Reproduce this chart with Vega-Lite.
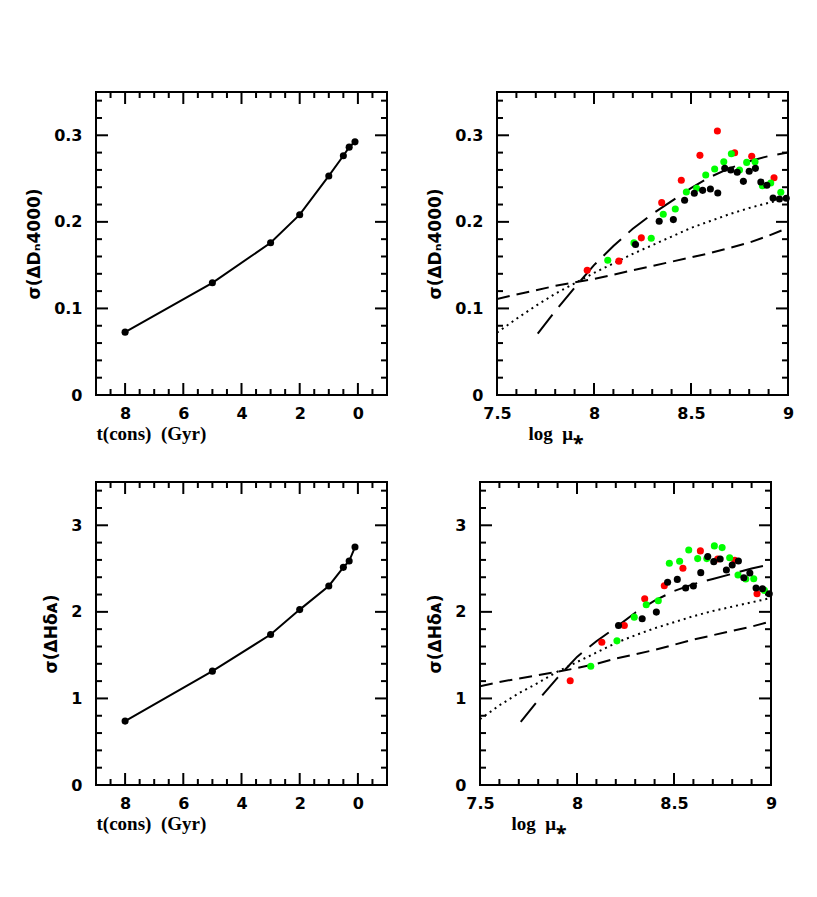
{
  "$schema": "https://vega.github.io/schema/vega-lite/v6.json",
  "padding": {"left": 24, "top": 90, "right": 5, "bottom": 5},
  "background": "white",
  "spacing": 36,
  "config": {
    "view": {"stroke": "black", "strokeWidth": 2},
    "axis": {
      "domain": false, "grid": false, "tickSize": 0,
      "labelFont": "DejaVu Sans", "labelFontSize": 16, "labelFontWeight": "bold", "labelColor": "black",
      "labelFlush": false, "labelOverlap": false, "titleColor": "black", "titleFontWeight": "bold"
    },
    "concat": {"spacing": 36}
  },
  "datasets": {
    "tl": [
      {"t": 8, "sigma": 0.0726}, {"t": 5, "sigma": 0.1296}, {"t": 3, "sigma": 0.1758}, {"t": 2, "sigma": 0.2083},
      {"t": 1, "sigma": 0.253}, {"t": 0.5, "sigma": 0.2764}, {"t": 0.3, "sigma": 0.2863}, {"t": 0.1, "sigma": 0.2924}
    ],
    "bl": [
      {"t": 8, "sigma": 0.738}, {"t": 5, "sigma": 1.315}, {"t": 3, "sigma": 1.738}, {"t": 2, "sigma": 2.026},
      {"t": 1, "sigma": 2.299}, {"t": 0.5, "sigma": 2.514}, {"t": 0.3, "sigma": 2.587}, {"t": 0.1, "sigma": 2.749}
    ],
    "trc": [
      {"model": "model 1", "logmu": 7.71, "sigma": 0.071}, {"model": "model 1", "logmu": 7.8, "sigma": 0.097},
      {"model": "model 1", "logmu": 7.9, "sigma": 0.124}, {"model": "model 1", "logmu": 8.0, "sigma": 0.15},
      {"model": "model 1", "logmu": 8.1, "sigma": 0.172}, {"model": "model 1", "logmu": 8.2, "sigma": 0.192},
      {"model": "model 1", "logmu": 8.3, "sigma": 0.209}, {"model": "model 1", "logmu": 8.4, "sigma": 0.224},
      {"model": "model 1", "logmu": 8.5, "sigma": 0.239}, {"model": "model 1", "logmu": 8.6, "sigma": 0.252},
      {"model": "model 1", "logmu": 8.7, "sigma": 0.262}, {"model": "model 1", "logmu": 8.8, "sigma": 0.27},
      {"model": "model 1", "logmu": 8.9, "sigma": 0.276}, {"model": "model 1", "logmu": 9.0, "sigma": 0.28},
      {"model": "model 2", "logmu": 7.5, "sigma": 0.072}, {"model": "model 2", "logmu": 7.6, "sigma": 0.088},
      {"model": "model 2", "logmu": 7.7, "sigma": 0.103}, {"model": "model 2", "logmu": 7.8, "sigma": 0.117},
      {"model": "model 2", "logmu": 7.9, "sigma": 0.129}, {"model": "model 2", "logmu": 8.0, "sigma": 0.141},
      {"model": "model 2", "logmu": 8.1, "sigma": 0.152}, {"model": "model 2", "logmu": 8.2, "sigma": 0.163},
      {"model": "model 2", "logmu": 8.3, "sigma": 0.173}, {"model": "model 2", "logmu": 8.4, "sigma": 0.183},
      {"model": "model 2", "logmu": 8.5, "sigma": 0.193}, {"model": "model 2", "logmu": 8.6, "sigma": 0.201},
      {"model": "model 2", "logmu": 8.7, "sigma": 0.209}, {"model": "model 2", "logmu": 8.8, "sigma": 0.216},
      {"model": "model 2", "logmu": 8.9, "sigma": 0.222}, {"model": "model 2", "logmu": 9.0, "sigma": 0.228},
      {"model": "model 3", "logmu": 7.5, "sigma": 0.111}, {"model": "model 3", "logmu": 7.6, "sigma": 0.116},
      {"model": "model 3", "logmu": 7.7, "sigma": 0.121}, {"model": "model 3", "logmu": 7.8, "sigma": 0.126},
      {"model": "model 3", "logmu": 7.9, "sigma": 0.13}, {"model": "model 3", "logmu": 8.0, "sigma": 0.134},
      {"model": "model 3", "logmu": 8.1, "sigma": 0.139}, {"model": "model 3", "logmu": 8.2, "sigma": 0.144},
      {"model": "model 3", "logmu": 8.3, "sigma": 0.149}, {"model": "model 3", "logmu": 8.4, "sigma": 0.154},
      {"model": "model 3", "logmu": 8.5, "sigma": 0.159}, {"model": "model 3", "logmu": 8.6, "sigma": 0.164},
      {"model": "model 3", "logmu": 8.7, "sigma": 0.17}, {"model": "model 3", "logmu": 8.8, "sigma": 0.176},
      {"model": "model 3", "logmu": 8.9, "sigma": 0.184}, {"model": "model 3", "logmu": 9.0, "sigma": 0.193}
    ],
    "brc": [
      {"model": "model 1", "logmu": 7.71, "sigma": 0.73}, {"model": "model 1", "logmu": 7.8, "sigma": 0.98},
      {"model": "model 1", "logmu": 7.9, "sigma": 1.24}, {"model": "model 1", "logmu": 8.0, "sigma": 1.48},
      {"model": "model 1", "logmu": 8.1, "sigma": 1.66}, {"model": "model 1", "logmu": 8.2, "sigma": 1.82},
      {"model": "model 1", "logmu": 8.3, "sigma": 1.99}, {"model": "model 1", "logmu": 8.4, "sigma": 2.13},
      {"model": "model 1", "logmu": 8.5, "sigma": 2.24}, {"model": "model 1", "logmu": 8.6, "sigma": 2.32},
      {"model": "model 1", "logmu": 8.7, "sigma": 2.38}, {"model": "model 1", "logmu": 8.8, "sigma": 2.44},
      {"model": "model 1", "logmu": 8.9, "sigma": 2.5}, {"model": "model 1", "logmu": 9.0, "sigma": 2.55},
      {"model": "model 2", "logmu": 7.5, "sigma": 0.76}, {"model": "model 2", "logmu": 7.6, "sigma": 0.92},
      {"model": "model 2", "logmu": 7.7, "sigma": 1.06}, {"model": "model 2", "logmu": 7.8, "sigma": 1.18},
      {"model": "model 2", "logmu": 7.9, "sigma": 1.31}, {"model": "model 2", "logmu": 8.0, "sigma": 1.42},
      {"model": "model 2", "logmu": 8.1, "sigma": 1.53}, {"model": "model 2", "logmu": 8.2, "sigma": 1.64},
      {"model": "model 2", "logmu": 8.3, "sigma": 1.73}, {"model": "model 2", "logmu": 8.4, "sigma": 1.81},
      {"model": "model 2", "logmu": 8.5, "sigma": 1.88}, {"model": "model 2", "logmu": 8.6, "sigma": 1.95},
      {"model": "model 2", "logmu": 8.7, "sigma": 2.01}, {"model": "model 2", "logmu": 8.8, "sigma": 2.06},
      {"model": "model 2", "logmu": 8.9, "sigma": 2.11}, {"model": "model 2", "logmu": 9.0, "sigma": 2.16},
      {"model": "model 3", "logmu": 7.5, "sigma": 1.14}, {"model": "model 3", "logmu": 7.6, "sigma": 1.19},
      {"model": "model 3", "logmu": 7.7, "sigma": 1.23}, {"model": "model 3", "logmu": 7.8, "sigma": 1.27},
      {"model": "model 3", "logmu": 7.9, "sigma": 1.31}, {"model": "model 3", "logmu": 8.0, "sigma": 1.35},
      {"model": "model 3", "logmu": 8.1, "sigma": 1.4}, {"model": "model 3", "logmu": 8.2, "sigma": 1.46},
      {"model": "model 3", "logmu": 8.3, "sigma": 1.51}, {"model": "model 3", "logmu": 8.4, "sigma": 1.56},
      {"model": "model 3", "logmu": 8.5, "sigma": 1.62}, {"model": "model 3", "logmu": 8.6, "sigma": 1.68},
      {"model": "model 3", "logmu": 8.7, "sigma": 1.73}, {"model": "model 3", "logmu": 8.8, "sigma": 1.78},
      {"model": "model 3", "logmu": 8.9, "sigma": 1.83}, {"model": "model 3", "logmu": 9.0, "sigma": 1.89}
    ],
    "trp": [
      {"sample": "A", "logmu": 7.965, "sigma": 0.1442}, {"sample": "A", "logmu": 8.128, "sigma": 0.1546},
      {"sample": "A", "logmu": 8.244, "sigma": 0.1815}, {"sample": "A", "logmu": 8.349, "sigma": 0.2222},
      {"sample": "A", "logmu": 8.45, "sigma": 0.248}, {"sample": "A", "logmu": 8.546, "sigma": 0.2768},
      {"sample": "A", "logmu": 8.636, "sigma": 0.3049}, {"sample": "A", "logmu": 8.725, "sigma": 0.2799},
      {"sample": "A", "logmu": 8.813, "sigma": 0.2757}, {"sample": "A", "logmu": 8.928, "sigma": 0.251},
      {"sample": "B", "logmu": 8.071, "sigma": 0.1557}, {"sample": "B", "logmu": 8.206, "sigma": 0.1757},
      {"sample": "B", "logmu": 8.295, "sigma": 0.1811}, {"sample": "B", "logmu": 8.357, "sigma": 0.2088},
      {"sample": "B", "logmu": 8.419, "sigma": 0.2149}, {"sample": "B", "logmu": 8.476, "sigma": 0.2345},
      {"sample": "B", "logmu": 8.529, "sigma": 0.2388}, {"sample": "B", "logmu": 8.576, "sigma": 0.2541},
      {"sample": "B", "logmu": 8.622, "sigma": 0.261}, {"sample": "B", "logmu": 8.669, "sigma": 0.2695},
      {"sample": "B", "logmu": 8.708, "sigma": 0.2787}, {"sample": "B", "logmu": 8.75, "sigma": 0.2599},
      {"sample": "B", "logmu": 8.787, "sigma": 0.2687}, {"sample": "B", "logmu": 8.83, "sigma": 0.2695},
      {"sample": "B", "logmu": 8.868, "sigma": 0.2418}, {"sample": "B", "logmu": 8.911, "sigma": 0.2449},
      {"sample": "B", "logmu": 8.963, "sigma": 0.2341},
      {"sample": "C", "logmu": 8.214, "sigma": 0.1738}, {"sample": "C", "logmu": 8.336, "sigma": 0.2007},
      {"sample": "C", "logmu": 8.409, "sigma": 0.2026}, {"sample": "C", "logmu": 8.467, "sigma": 0.2249},
      {"sample": "C", "logmu": 8.517, "sigma": 0.233}, {"sample": "C", "logmu": 8.56, "sigma": 0.2364},
      {"sample": "C", "logmu": 8.6, "sigma": 0.238}, {"sample": "C", "logmu": 8.638, "sigma": 0.2334},
      {"sample": "C", "logmu": 8.674, "sigma": 0.2618}, {"sample": "C", "logmu": 8.705, "sigma": 0.2599},
      {"sample": "C", "logmu": 8.738, "sigma": 0.2572}, {"sample": "C", "logmu": 8.77, "sigma": 0.2468},
      {"sample": "C", "logmu": 8.8, "sigma": 0.2584}, {"sample": "C", "logmu": 8.832, "sigma": 0.2618},
      {"sample": "C", "logmu": 8.86, "sigma": 0.2461}, {"sample": "C", "logmu": 8.891, "sigma": 0.2422},
      {"sample": "C", "logmu": 8.923, "sigma": 0.2276}, {"sample": "C", "logmu": 8.956, "sigma": 0.2265},
      {"sample": "C", "logmu": 8.991, "sigma": 0.2272}
    ],
    "brp": [
      {"sample": "A", "logmu": 7.965, "sigma": 1.205}, {"sample": "A", "logmu": 8.128, "sigma": 1.649},
      {"sample": "A", "logmu": 8.244, "sigma": 1.842}, {"sample": "A", "logmu": 8.349, "sigma": 2.151},
      {"sample": "A", "logmu": 8.45, "sigma": 2.302}, {"sample": "A", "logmu": 8.546, "sigma": 2.503},
      {"sample": "A", "logmu": 8.636, "sigma": 2.704}, {"sample": "A", "logmu": 8.725, "sigma": 2.611},
      {"sample": "A", "logmu": 8.813, "sigma": 2.596}, {"sample": "A", "logmu": 8.928, "sigma": 2.209},
      {"sample": "B", "logmu": 8.071, "sigma": 1.371}, {"sample": "B", "logmu": 8.206, "sigma": 1.665},
      {"sample": "B", "logmu": 8.295, "sigma": 1.939}, {"sample": "B", "logmu": 8.357, "sigma": 2.082},
      {"sample": "B", "logmu": 8.419, "sigma": 2.128}, {"sample": "B", "logmu": 8.476, "sigma": 2.561},
      {"sample": "B", "logmu": 8.529, "sigma": 2.584}, {"sample": "B", "logmu": 8.576, "sigma": 2.715},
      {"sample": "B", "logmu": 8.622, "sigma": 2.615}, {"sample": "B", "logmu": 8.669, "sigma": 2.615},
      {"sample": "B", "logmu": 8.708, "sigma": 2.762}, {"sample": "B", "logmu": 8.748, "sigma": 2.742},
      {"sample": "B", "logmu": 8.787, "sigma": 2.626}, {"sample": "B", "logmu": 8.83, "sigma": 2.426},
      {"sample": "B", "logmu": 8.87, "sigma": 2.379}, {"sample": "B", "logmu": 8.911, "sigma": 2.383},
      {"sample": "B", "logmu": 8.966, "sigma": 2.248},
      {"sample": "C", "logmu": 8.214, "sigma": 1.842}, {"sample": "C", "logmu": 8.336, "sigma": 1.92},
      {"sample": "C", "logmu": 8.409, "sigma": 1.997}, {"sample": "C", "logmu": 8.467, "sigma": 2.341},
      {"sample": "C", "logmu": 8.517, "sigma": 2.375}, {"sample": "C", "logmu": 8.56, "sigma": 2.275},
      {"sample": "C", "logmu": 8.6, "sigma": 2.298}, {"sample": "C", "logmu": 8.638, "sigma": 2.453},
      {"sample": "C", "logmu": 8.674, "sigma": 2.638}, {"sample": "C", "logmu": 8.705, "sigma": 2.58},
      {"sample": "C", "logmu": 8.738, "sigma": 2.611}, {"sample": "C", "logmu": 8.77, "sigma": 2.484},
      {"sample": "C", "logmu": 8.8, "sigma": 2.542}, {"sample": "C", "logmu": 8.832, "sigma": 2.588},
      {"sample": "C", "logmu": 8.86, "sigma": 2.395}, {"sample": "C", "logmu": 8.891, "sigma": 2.449},
      {"sample": "C", "logmu": 8.923, "sigma": 2.275}, {"sample": "C", "logmu": 8.956, "sigma": 2.267},
      {"sample": "C", "logmu": 8.991, "sigma": 2.209}
    ],
    "xlMaj": [{"v": 8}, {"v": 6}, {"v": 4}, {"v": 2}, {"v": 0}],
    "xlMin": [{"v": 8.5}, {"v": 7.5}, {"v": 7}, {"v": 6.5}, {"v": 5.5}, {"v": 5}, {"v": 4.5}, {"v": 3.5}, {"v": 3}, {"v": 2.5}, {"v": 1.5}, {"v": 1}, {"v": 0.5}, {"v": -0.5}],
    "xrMaj": [{"v": 8}, {"v": 8.5}],
    "xrMin": [{"v": 7.6}, {"v": 7.7}, {"v": 7.8}, {"v": 7.9}, {"v": 8.1}, {"v": 8.2}, {"v": 8.3}, {"v": 8.4}, {"v": 8.6}, {"v": 8.7}, {"v": 8.8}, {"v": 8.9}],
    "ytMaj": [{"v": 0.1}, {"v": 0.2}, {"v": 0.3}],
    "ytMin": [{"v": 0.02}, {"v": 0.04}, {"v": 0.06}, {"v": 0.08}, {"v": 0.12}, {"v": 0.14}, {"v": 0.16}, {"v": 0.18}, {"v": 0.22}, {"v": 0.24}, {"v": 0.26}, {"v": 0.28}, {"v": 0.32}, {"v": 0.34}],
    "ybMaj": [{"v": 1}, {"v": 2}, {"v": 3}],
    "ybMin": [{"v": 0.2}, {"v": 0.4}, {"v": 0.6}, {"v": 0.8}, {"v": 1.2}, {"v": 1.4}, {"v": 1.6}, {"v": 1.8}, {"v": 2.2}, {"v": 2.4}, {"v": 2.6}, {"v": 2.8}, {"v": 3.2}, {"v": 3.4}]
  },
  "vconcat": [
    {
      "hconcat": [
        {
          "width": 291, "height": 303,
          "layer": [
            {
              "data": {"name": "tl"},
              "mark": {"type": "line", "color": "black", "strokeWidth": 2},
              "encoding": {
                "x": {"field": "t", "type": "quantitative", "scale": {"domain": [9, -1], "nice": false, "zero": false},
                  "axis": {"orient": "bottom", "title": "t(cons)\u00a0\u00a0(Gyr)", "titleFont": "Liberation Serif", "titleFontSize": 19, "titleAlign": "left", "titleX": 0, "titlePadding": 3,
                    "values": [8, 6, 4, 2, 0], "labelExpr": "format(datum.value, 'd')", "labelPadding": 10}},
                "y": {"field": "sigma", "type": "quantitative", "scale": {"domain": [0, 0.35], "nice": false},
                  "axis": {"orient": "left", "title": "σ(ΔDₙ4000)", "titleFont": "DejaVu Sans", "titleFontSize": 17, "titlePadding": 10,
                    "values": [0, 0.1, 0.2, 0.3], "labelExpr": "format(datum.value, '.1~f')", "labelPadding": 14}}
              }
            },
            {
              "data": {"name": "tl"},
              "mark": {"type": "point", "filled": true, "color": "black", "size": 50, "opacity": 1},
              "encoding": {"x": {"field": "t", "type": "quantitative"}, "y": {"field": "sigma", "type": "quantitative"}}
            },
            {"data": {"name": "xlMaj"}, "mark": {"type": "rule", "color": "#000000", "strokeWidth": 2}, "encoding": {"x": {"field": "v", "type": "quantitative"}, "y": {"datum": 0, "type": "quantitative"}, "y2": {"datum": 0.01386}}},
            {"data": {"name": "xlMin"}, "mark": {"type": "rule", "color": "#000000", "strokeWidth": 2}, "encoding": {"x": {"field": "v", "type": "quantitative"}, "y": {"datum": 0, "type": "quantitative"}, "y2": {"datum": 0.00693}}},
            {"data": {"name": "xlMaj"}, "mark": {"type": "rule", "color": "#000000", "strokeWidth": 2}, "encoding": {"x": {"field": "v", "type": "quantitative"}, "y": {"datum": 0.35, "type": "quantitative"}, "y2": {"datum": 0.33614}}},
            {"data": {"name": "xlMin"}, "mark": {"type": "rule", "color": "#000000", "strokeWidth": 2}, "encoding": {"x": {"field": "v", "type": "quantitative"}, "y": {"datum": 0.35, "type": "quantitative"}, "y2": {"datum": 0.34307}}},
            {"data": {"name": "ytMaj"}, "mark": {"type": "rule", "color": "#000000", "strokeWidth": 2}, "encoding": {"y": {"field": "v", "type": "quantitative"}, "x": {"datum": 9, "type": "quantitative"}, "x2": {"datum": 8.588}}},
            {"data": {"name": "ytMin"}, "mark": {"type": "rule", "color": "#000000", "strokeWidth": 2}, "encoding": {"y": {"field": "v", "type": "quantitative"}, "x": {"datum": 9, "type": "quantitative"}, "x2": {"datum": 8.794}}},
            {"data": {"name": "ytMaj"}, "mark": {"type": "rule", "color": "#000000", "strokeWidth": 2}, "encoding": {"y": {"field": "v", "type": "quantitative"}, "x": {"datum": -1, "type": "quantitative"}, "x2": {"datum": -0.588}}},
            {"data": {"name": "ytMin"}, "mark": {"type": "rule", "color": "#000000", "strokeWidth": 2}, "encoding": {"y": {"field": "v", "type": "quantitative"}, "x": {"datum": -1, "type": "quantitative"}, "x2": {"datum": -0.794}}}
          ]
        },
        {
          "width": 291, "height": 303,
          "layer": [
            {
              "data": {"name": "trc"},
              "mark": {"type": "line", "color": "black", "strokeWidth": 2, "clip": true},
              "encoding": {
                "x": {"field": "logmu", "type": "quantitative", "scale": {"domain": [7.5, 9], "nice": false, "zero": false},
                  "axis": {"orient": "bottom", "title": "log\u00a0\u00a0μ⁎", "titleFont": "Liberation Serif", "titleFontSize": 19, "titleAlign": "left", "titleX": 31, "titlePadding": 3,
                    "values": [7.5, 8, 8.5, 9], "labelExpr": "format(datum.value, '.1~f')", "labelPadding": 10}},
                "y": {"field": "sigma", "type": "quantitative", "scale": {"domain": [0, 0.35], "nice": false},
                  "axis": {"orient": "left", "title": "σ(ΔDₙ4000)", "titleFont": "DejaVu Sans", "titleFontSize": 17, "titlePadding": 10,
                    "values": [0, 0.1, 0.2, 0.3], "labelExpr": "format(datum.value, '.1~f')", "labelPadding": 14}},
                "strokeDash": {"field": "model", "type": "nominal", "legend": null,
                  "scale": {"domain": ["model 1", "model 2", "model 3"], "range": [[24, 10], [2, 4], [13, 7]]}}
              }
            },
            {
              "data": {"name": "trp"},
              "mark": {"type": "circle", "size": 50, "opacity": 1},
              "encoding": {
                "x": {"field": "logmu", "type": "quantitative"},
                "y": {"field": "sigma", "type": "quantitative"},
                "color": {"field": "sample", "type": "nominal", "legend": null,
                  "scale": {"domain": ["A", "B", "C"], "range": ["#ff0000", "#00ff00", "#000000"]}}
              }
            },
            {"data": {"name": "xrMaj"}, "mark": {"type": "rule", "color": "#000000", "strokeWidth": 2}, "encoding": {"x": {"field": "v", "type": "quantitative"}, "y": {"datum": 0, "type": "quantitative"}, "y2": {"datum": 0.01386}}},
            {"data": {"name": "xrMin"}, "mark": {"type": "rule", "color": "#000000", "strokeWidth": 2}, "encoding": {"x": {"field": "v", "type": "quantitative"}, "y": {"datum": 0, "type": "quantitative"}, "y2": {"datum": 0.00693}}},
            {"data": {"name": "xrMaj"}, "mark": {"type": "rule", "color": "#000000", "strokeWidth": 2}, "encoding": {"x": {"field": "v", "type": "quantitative"}, "y": {"datum": 0.35, "type": "quantitative"}, "y2": {"datum": 0.33614}}},
            {"data": {"name": "xrMin"}, "mark": {"type": "rule", "color": "#000000", "strokeWidth": 2}, "encoding": {"x": {"field": "v", "type": "quantitative"}, "y": {"datum": 0.35, "type": "quantitative"}, "y2": {"datum": 0.34307}}},
            {"data": {"name": "ytMaj"}, "mark": {"type": "rule", "color": "#000000", "strokeWidth": 2}, "encoding": {"y": {"field": "v", "type": "quantitative"}, "x": {"datum": 7.5, "type": "quantitative"}, "x2": {"datum": 7.5619}}},
            {"data": {"name": "ytMin"}, "mark": {"type": "rule", "color": "#000000", "strokeWidth": 2}, "encoding": {"y": {"field": "v", "type": "quantitative"}, "x": {"datum": 7.5, "type": "quantitative"}, "x2": {"datum": 7.5309}}},
            {"data": {"name": "ytMaj"}, "mark": {"type": "rule", "color": "#000000", "strokeWidth": 2}, "encoding": {"y": {"field": "v", "type": "quantitative"}, "x": {"datum": 9, "type": "quantitative"}, "x2": {"datum": 8.9381}}},
            {"data": {"name": "ytMin"}, "mark": {"type": "rule", "color": "#000000", "strokeWidth": 2}, "encoding": {"y": {"field": "v", "type": "quantitative"}, "x": {"datum": 9, "type": "quantitative"}, "x2": {"datum": 8.9691}}}
          ]
        }
      ]
    },
    {
      "hconcat": [
        {
          "width": 291, "height": 303,
          "layer": [
            {
              "data": {"name": "bl"},
              "mark": {"type": "line", "color": "black", "strokeWidth": 2},
              "encoding": {
                "x": {"field": "t", "type": "quantitative", "scale": {"domain": [9, -1], "nice": false, "zero": false},
                  "axis": {"orient": "bottom", "title": "t(cons)\u00a0\u00a0(Gyr)", "titleFont": "Liberation Serif", "titleFontSize": 19, "titleAlign": "left", "titleX": 0, "titlePadding": 3,
                    "values": [8, 6, 4, 2, 0], "labelExpr": "format(datum.value, 'd')", "labelPadding": 10}},
                "y": {"field": "sigma", "type": "quantitative", "scale": {"domain": [0, 3.5], "nice": false},
                  "axis": {"orient": "left", "title": "σ(ΔHδᴀ)", "titleFont": "DejaVu Sans", "titleFontSize": 17, "titlePadding": 10,
                    "values": [0, 1, 2, 3], "labelExpr": "format(datum.value, 'd')", "labelPadding": 14}}
              }
            },
            {
              "data": {"name": "bl"},
              "mark": {"type": "point", "filled": true, "color": "black", "size": 50, "opacity": 1},
              "encoding": {"x": {"field": "t", "type": "quantitative"}, "y": {"field": "sigma", "type": "quantitative"}}
            },
            {"data": {"name": "xlMaj"}, "mark": {"type": "rule", "color": "#000000", "strokeWidth": 2}, "encoding": {"x": {"field": "v", "type": "quantitative"}, "y": {"datum": 0, "type": "quantitative"}, "y2": {"datum": 0.1386}}},
            {"data": {"name": "xlMin"}, "mark": {"type": "rule", "color": "#000000", "strokeWidth": 2}, "encoding": {"x": {"field": "v", "type": "quantitative"}, "y": {"datum": 0, "type": "quantitative"}, "y2": {"datum": 0.0693}}},
            {"data": {"name": "xlMaj"}, "mark": {"type": "rule", "color": "#000000", "strokeWidth": 2}, "encoding": {"x": {"field": "v", "type": "quantitative"}, "y": {"datum": 3.5, "type": "quantitative"}, "y2": {"datum": 3.3614}}},
            {"data": {"name": "xlMin"}, "mark": {"type": "rule", "color": "#000000", "strokeWidth": 2}, "encoding": {"x": {"field": "v", "type": "quantitative"}, "y": {"datum": 3.5, "type": "quantitative"}, "y2": {"datum": 3.4307}}},
            {"data": {"name": "ybMaj"}, "mark": {"type": "rule", "color": "#000000", "strokeWidth": 2}, "encoding": {"y": {"field": "v", "type": "quantitative"}, "x": {"datum": 9, "type": "quantitative"}, "x2": {"datum": 8.588}}},
            {"data": {"name": "ybMin"}, "mark": {"type": "rule", "color": "#000000", "strokeWidth": 2}, "encoding": {"y": {"field": "v", "type": "quantitative"}, "x": {"datum": 9, "type": "quantitative"}, "x2": {"datum": 8.794}}},
            {"data": {"name": "ybMaj"}, "mark": {"type": "rule", "color": "#000000", "strokeWidth": 2}, "encoding": {"y": {"field": "v", "type": "quantitative"}, "x": {"datum": -1, "type": "quantitative"}, "x2": {"datum": -0.588}}},
            {"data": {"name": "ybMin"}, "mark": {"type": "rule", "color": "#000000", "strokeWidth": 2}, "encoding": {"y": {"field": "v", "type": "quantitative"}, "x": {"datum": -1, "type": "quantitative"}, "x2": {"datum": -0.794}}}
          ]
        },
        {
          "width": 291, "height": 303,
          "layer": [
            {
              "data": {"name": "brc"},
              "mark": {"type": "line", "color": "black", "strokeWidth": 2, "clip": true},
              "encoding": {
                "x": {"field": "logmu", "type": "quantitative", "scale": {"domain": [7.5, 9], "nice": false, "zero": false},
                  "axis": {"orient": "bottom", "title": "log\u00a0\u00a0μ⁎", "titleFont": "Liberation Serif", "titleFontSize": 19, "titleAlign": "left", "titleX": 31, "titlePadding": 3,
                    "values": [7.5, 8, 8.5, 9], "labelExpr": "format(datum.value, '.1~f')", "labelPadding": 10}},
                "y": {"field": "sigma", "type": "quantitative", "scale": {"domain": [0, 3.5], "nice": false},
                  "axis": {"orient": "left", "title": "σ(ΔHδᴀ)", "titleFont": "DejaVu Sans", "titleFontSize": 17, "titlePadding": 10,
                    "values": [0, 1, 2, 3], "labelExpr": "format(datum.value, 'd')", "labelPadding": 14}},
                "strokeDash": {"field": "model", "type": "nominal", "legend": null,
                  "scale": {"domain": ["model 1", "model 2", "model 3"], "range": [[24, 10], [2, 4], [13, 7]]}}
              }
            },
            {
              "data": {"name": "brp"},
              "mark": {"type": "circle", "size": 50, "opacity": 1},
              "encoding": {
                "x": {"field": "logmu", "type": "quantitative"},
                "y": {"field": "sigma", "type": "quantitative"},
                "color": {"field": "sample", "type": "nominal", "legend": null,
                  "scale": {"domain": ["A", "B", "C"], "range": ["#ff0000", "#00ff00", "#000000"]}}
              }
            },
            {"data": {"name": "xrMaj"}, "mark": {"type": "rule", "color": "#000000", "strokeWidth": 2}, "encoding": {"x": {"field": "v", "type": "quantitative"}, "y": {"datum": 0, "type": "quantitative"}, "y2": {"datum": 0.1386}}},
            {"data": {"name": "xrMin"}, "mark": {"type": "rule", "color": "#000000", "strokeWidth": 2}, "encoding": {"x": {"field": "v", "type": "quantitative"}, "y": {"datum": 0, "type": "quantitative"}, "y2": {"datum": 0.0693}}},
            {"data": {"name": "xrMaj"}, "mark": {"type": "rule", "color": "#000000", "strokeWidth": 2}, "encoding": {"x": {"field": "v", "type": "quantitative"}, "y": {"datum": 3.5, "type": "quantitative"}, "y2": {"datum": 3.3614}}},
            {"data": {"name": "xrMin"}, "mark": {"type": "rule", "color": "#000000", "strokeWidth": 2}, "encoding": {"x": {"field": "v", "type": "quantitative"}, "y": {"datum": 3.5, "type": "quantitative"}, "y2": {"datum": 3.4307}}},
            {"data": {"name": "ybMaj"}, "mark": {"type": "rule", "color": "#000000", "strokeWidth": 2}, "encoding": {"y": {"field": "v", "type": "quantitative"}, "x": {"datum": 7.5, "type": "quantitative"}, "x2": {"datum": 7.5619}}},
            {"data": {"name": "ybMin"}, "mark": {"type": "rule", "color": "#000000", "strokeWidth": 2}, "encoding": {"y": {"field": "v", "type": "quantitative"}, "x": {"datum": 7.5, "type": "quantitative"}, "x2": {"datum": 7.5309}}},
            {"data": {"name": "ybMaj"}, "mark": {"type": "rule", "color": "#000000", "strokeWidth": 2}, "encoding": {"y": {"field": "v", "type": "quantitative"}, "x": {"datum": 9, "type": "quantitative"}, "x2": {"datum": 8.9381}}},
            {"data": {"name": "ybMin"}, "mark": {"type": "rule", "color": "#000000", "strokeWidth": 2}, "encoding": {"y": {"field": "v", "type": "quantitative"}, "x": {"datum": 9, "type": "quantitative"}, "x2": {"datum": 8.9691}}}
          ]
        }
      ]
    }
  ]
}
